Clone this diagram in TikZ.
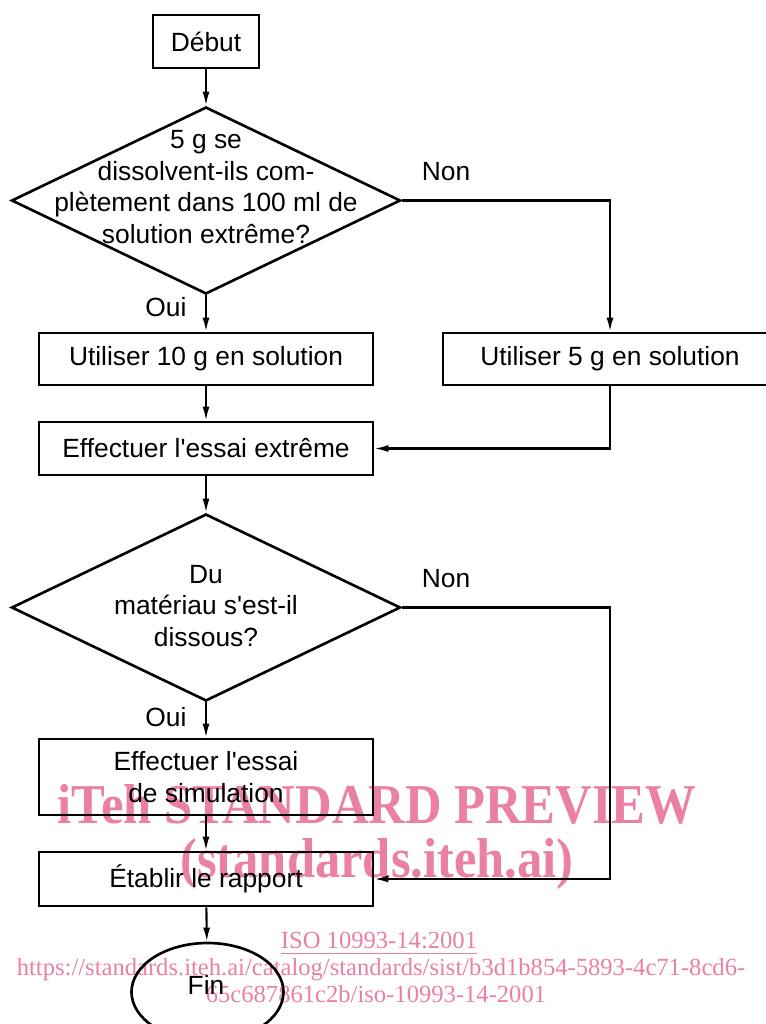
\documentclass[tikz,border=0pt]{standalone}
\usepackage{fontspec}
\setmainfont{Liberation Sans}
\newfontfamily\wmfont{Liberation Serif}
\usepackage{xcolor}
\usepackage{tikz}
\usetikzlibrary{arrows.meta}
\usetikzlibrary{shapes.geometric}
\usetikzlibrary{positioning}

\definecolor{wmpink}{RGB}{234,128,163}

\tikzset{
  every node/.style={font=\fontsize{7.5}{9}\selectfont},
  stepbox/.style={rectangle, draw=black, line width=0.75pt, minimum width=3.34cm, inner sep=0pt, align=center},
  decision/.style={diamond, draw=black, line width=0.75pt, minimum width=3.89cm, minimum height=1.87cm, inner sep=0pt},
  arr/.style={line width=0.6pt, -{Latex[length=1.4mm,width=0.7mm]}},
  wmbig/.style={text=wmpink, anchor=base, xscale=0.9, transform shape, font=\wmfont\fontsize{16}{16}\selectfont\bfseries},
  wmsmall/.style={text=wmpink, anchor=base, font=\wmfont\fontsize{7}{7}\selectfont}
}

\begin{document}
\begin{tikzpicture}
\useasboundingbox (0,0) rectangle (7.66,-10.24);

% watermark
\node [wmbig] (wm1) at (3.77, -8.23) {iTeh STANDARD PREVIEW};
\node [wmbig] (wm2) at (3.77, -8.77) {(standards.iteh.ai)};
\node [wmsmall] (wm3) at (3.79, -9.48) {\underline{ISO 10993-14:2001}};
\node [wmsmall] (wm4) at (3.81, -9.75) {https://standards.iteh.ai/catalog/standards/sist/b3d1b854-5893-4c71-8cd6-};
\node [wmsmall] (wm5) at (3.76, -10.02) {65c687861c2b/iso-10993-14-2001};

% flow chart
\node [stepbox, minimum width=1.06cm, minimum height=0.53cm] (start) at (2.06, -0.415) {Début};
\node [decision] (q1) at (2.06, -2.005) {};
\node [align=center] (q1txt) at (2.06, -1.87) {5 g se\\dissolvent-ils com-\\plètement dans 100 ml de\\solution extrême?};
\node [stepbox, minimum height=0.52cm] (use10) at (2.06, -3.59) {\raisebox{-1pt}{Utiliser 10 g en solution}};
\node [stepbox, minimum height=0.52cm] (use5) at (6.10, -3.59) {\raisebox{-1pt}{Utiliser 5 g en solution}};
\node [stepbox, minimum height=0.53cm] (test) at (2.06, -4.485) {Effectuer l\textquotesingle essai extrême};
\node [decision] (q2) at (2.06, -6.075) {};
\node [align=center] (q2txt) at (2.06, -6.06) {Du\\matériau s\textquotesingle est-il\\dissous?};
\node [stepbox, minimum height=0.76cm] (sim) at (2.06, -7.77) {Effectuer l\textquotesingle essai\\de simulation};
\node [stepbox, minimum height=0.54cm] (report) at (2.06, -8.79) {Établir le rapport};
\node [ellipse, draw=black, line width=0.75pt, minimum width=1.52cm, minimum height=0.98cm, inner sep=0pt] (fin) at (2.075, -9.92) {};
\node (fintxt) at (2.06, -9.85) {Fin};

\node (no1) at (4.46, -1.72) {Non};
\node (yes1) at (1.66, -3.07) {Oui};
\node (no2) at (4.46, -5.79) {Non};
\node (yes2) at (1.66, -7.17) {Oui};

\draw [arr] (start) to (q1);
\draw [arr] (q1.east) -| (use5.north);
\draw [arr] (q1.south) to (use10.north);
\draw [arr] (use10) to (test);
\draw [arr] (use5.south) |- (test.east);
\draw [arr] (test) to (q2);
\draw [arr] (q2.east) -| (use5.south |- report.east) -- (report.east);
\draw [arr] (q2.south) to (sim.north);
\draw [arr] (sim) to (report);
\draw [arr] (report) to (fin);
\end{tikzpicture}
\end{document}
